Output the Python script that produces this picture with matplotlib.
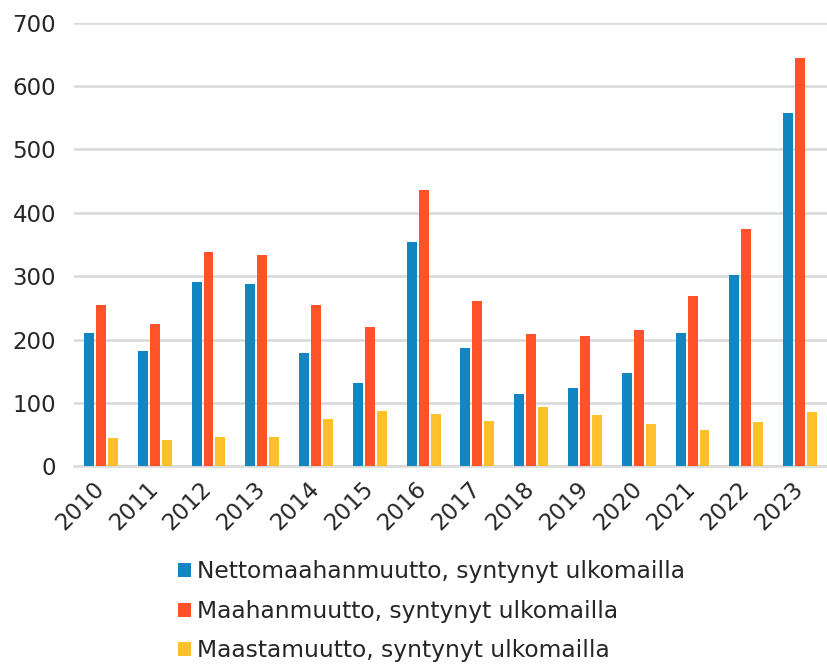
import matplotlib
matplotlib.use('agg')
import matplotlib.pyplot as plt
import matplotlib.transforms as mtransforms
import numpy as np

years = ['2010', '2011', '2012', '2013', '2014', '2015', '2016',
         '2017', '2018', '2019', '2020', '2021', '2022', '2023']
netto = [210, 182, 291, 287, 179, 132, 354, 187, 114, 124, 147, 210, 302, 558]
maahan = [255, 224, 338, 334, 254, 219, 436, 261, 208, 206, 215, 269, 374, 644]
maasta = [44, 41, 46, 47, 75, 87, 83, 72, 94, 81, 67, 58, 70, 86]

labels = ['Nettomaahanmuutto, syntynyt ulkomailla',
          'Maahanmuutto, syntynyt ulkomailla',
          'Maastamuutto, syntynyt ulkomailla']
colors = ['#1186c1', '#ff5229', '#ffc12b']

plt.rcParams['font.family'] = ['DejaVu Sans']
text_color = '#262626'

fig = plt.figure(figsize=(8.27, 6.64), dpi=100)
ax = fig.add_axes([0.0895, 0.2977, 0.9105, 0.6683])

x = np.arange(len(years))
w = 0.185
off = 0.222
for i, (vals, c, lab) in enumerate(zip([netto, maahan, maasta], colors, labels)):
    ax.bar(x + (i - 1) * off, vals, width=w, color=c, label=lab, zorder=3)

ax.set_xlim(-0.5, len(years) - 0.5)
ax.set_ylim(0, 700)
ax.set_yticks(range(0, 701, 100))
ax.yaxis.grid(True, color='#d9d9d9', linewidth=1.8, zorder=0)
ax.set_axisbelow(True)
for s in ['top', 'right', 'left']:
    ax.spines[s].set_visible(False)
ax.spines['bottom'].set_color('#d9d9d9')
ax.spines['bottom'].set_linewidth(1.8)
ax.tick_params(axis='both', length=0, labelsize=16.5, colors=text_color)
ax.tick_params(axis='y', pad=13)
ax.tick_params(axis='x', pad=8)
ax.set_xticks(x)
ax.set_xticklabels(years, rotation=45, ha='right', rotation_mode='anchor')
shift = mtransforms.ScaledTranslation(-6 / 72, 0, fig.dpi_scale_trans)
for lbl in ax.get_xticklabels():
    lbl.set_transform(lbl.get_transform() + shift)

fig.legend(loc='upper left', bbox_to_anchor=(0.2015, 0.1735), ncol=1, frameon=False,
           fontsize=16.8, handlelength=0.55, handleheight=0.55, handletextpad=0.25,
           labelspacing=0.70, borderpad=0, labelcolor=text_color)

fig.savefig('out.png', dpi=100)
